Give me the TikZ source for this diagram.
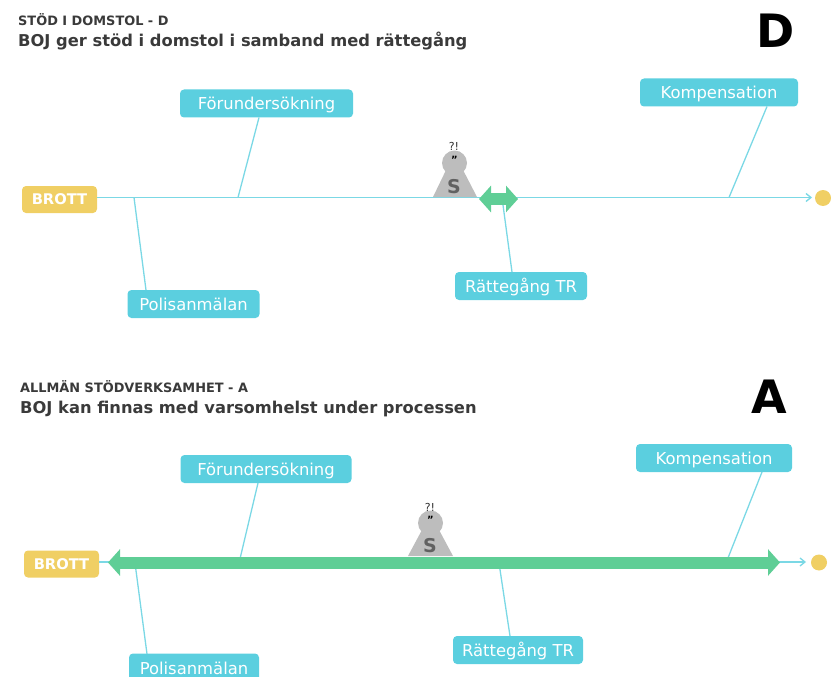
\documentclass[tikz,border=0pt]{standalone}
\usepackage{fontspec}
\setmainfont{DejaVu Sans}
\usetikzlibrary{arrows.meta,shapes.geometric}
\definecolor{cy}{HTML}{5BCFDF}
\definecolor{cyl}{HTML}{7BD8E5}
\definecolor{yl}{HTML}{F0CF64}
\definecolor{gr}{HTML}{5FCE96}
\definecolor{gy}{HTML}{BDBDBD}
\definecolor{tx}{HTML}{3A3A3A}
\tikzset{
 x=1pt,y=-1pt,
 lab/.style={fill=cy,rounded corners=4pt,text=white,font=\fontsize{16.4}{18}\selectfont,minimum height=28pt,inner sep=0pt,anchor=center,text height=16pt,text depth=3pt},
 crime/.style={fill=yl,rounded corners=4pt,text=white,font=\fontsize{14.7}{16}\selectfont\bfseries,minimum width=75pt,minimum height=27pt,inner sep=0pt},
 goal/.style={circle,fill=yl,minimum size=16pt,inner sep=0pt},
 tline/.style={draw=cyl,line width=1.3pt},
 taxis/.style={tline,-{Straight Barb[length=5pt,width=8pt]}},
 small/.style={font=\fontsize{12.9}{15}\selectfont\bfseries,text=tx,anchor=base west,inner sep=0pt},
 big/.style={font=\fontsize{16.3}{18}\selectfont\bfseries,text=tx,anchor=base west,inner sep=0pt},
 letter/.style={font=\fontsize{46}{50}\selectfont\bfseries,text=black,inner sep=0pt},
 thick arrow/.style={draw=gr,line width=#1,{Triangle[length=12pt,width=26pt]}-{Triangle[length=12pt,width=26pt]}},
 person/.style={fill=gy,draw=none},
 sletter/.style={font=\fontsize{19}{21}\selectfont\bfseries,text=black!62,inner sep=0pt},
 tiny/.style={font=\fontsize{11}{12}\selectfont,text=black!80,inner sep=0pt},
 quote/.style={font=\fontsize{10}{12}\selectfont\bfseries,text=black,inner sep=0pt},
}
\begin{document}
\begin{tikzpicture}
\useasboundingbox (0,0) rectangle (831,677);
% ---- D ----
\node[small] (t1) at (18,26) {STÖD I DOMSTOL - D};
\node[big] (t2) at (18,47) {BOJ ger stöd i domstol i samband med rättegång};
\node[letter] (ld) at (776,31) {D};
\coordinate (d1) at (134,197.5);
\coordinate (d2) at (238,197.5);
\coordinate (d3) at (502,197.5);
\coordinate (d4) at (729,197.5);
\coordinate (dpe) at (146,290);
\coordinate (dfe) at (259,117.5);
\coordinate (dre) at (512,272);
\coordinate (dke) at (767,106.5);
\node[crime] (db) at (59.5,199.5) {BROTT};
\node[goal] (dg) at (823,198) {};
\node[lab,minimum width=173pt] (df) at (266.5,103.5) {Förundersökning};
\node[lab,minimum width=132pt] (dp) at (193.5,304) {Polisanmälan};
\node[lab,minimum width=132pt] (dr) at (521,286) {Rättegång TR};
\node[lab,minimum width=158pt] (dk) at (719,92.5) {Kompensation};
\draw[taxis] (db.east |- d1) -- (812,197.5);
\draw[tline] (d1) -- (dpe);
\draw[tline] (d2) -- (dfe);
\draw[tline] (d3) -- (dre);
\draw[tline] (d4) -- (dke);
\fill[person] (433,197) -- (447,168) -- (462,168) -- (477,197) -- cycle;
\fill[person] (454.5,163) circle (12.5);
\node[sletter] (ds) at (454,187) {S};
\node[quote] (dq) at (454.5,160) {\symbol{34}};
\node[tiny] (dt) at (454,146) {?!};
\draw[thick arrow=12pt] (479,199) -- (518,199);
% ---- A ----
\node[small] (t3) at (20,392) {ALLMÄN STÖDVERKSAMHET - A};
\node[big] (t4) at (20,413) {BOJ kan finnas med varsomhelst under processen};
\node[letter] (la) at (769,397) {A};
\coordinate (a1) at (135,563);
\coordinate (a2) at (239,563);
\coordinate (a3) at (499,563);
\coordinate (a4) at (726,563);
\coordinate (ape) at (147,654);
\coordinate (afe) at (258,483);
\coordinate (are) at (510,636);
\coordinate (ake) at (762,472);
\coordinate (aaxis) at (0,562);
\node[crime] (ab) at (61.5,564) {BROTT};
\node[goal] (ag) at (819,562.5) {};
\node[lab,minimum width=171pt] (af) at (266,469) {Förundersökning};
\node[lab,minimum width=130pt] (ap) at (194,667.5) {Polisanmälan};
\node[lab,minimum width=130pt] (ar) at (518,650) {Rättegång TR};
\node[lab,minimum width=156pt] (ak) at (714,458) {Kompensation};
\draw[taxis] (ab.east |- aaxis) -- (806,562);
\draw[tline] (a1) -- (ape);
\draw[tline] (a2) -- (afe);
\draw[tline] (a3) -- (are);
\draw[tline] (a4) -- (ake);
\fill[person] (408,556) -- (423,528) -- (438,528) -- (453,556) -- cycle;
\fill[person] (430.5,523) circle (12.5);
\node[sletter] (as) at (430,546) {S};
\node[quote] (aq) at (430.5,520) {\symbol{34}};
\node[tiny] (at) at (430,507) {?!};
\draw[thick arrow=12pt] (108,562.5) -- (780,562.5);
\end{tikzpicture}
\end{document}
